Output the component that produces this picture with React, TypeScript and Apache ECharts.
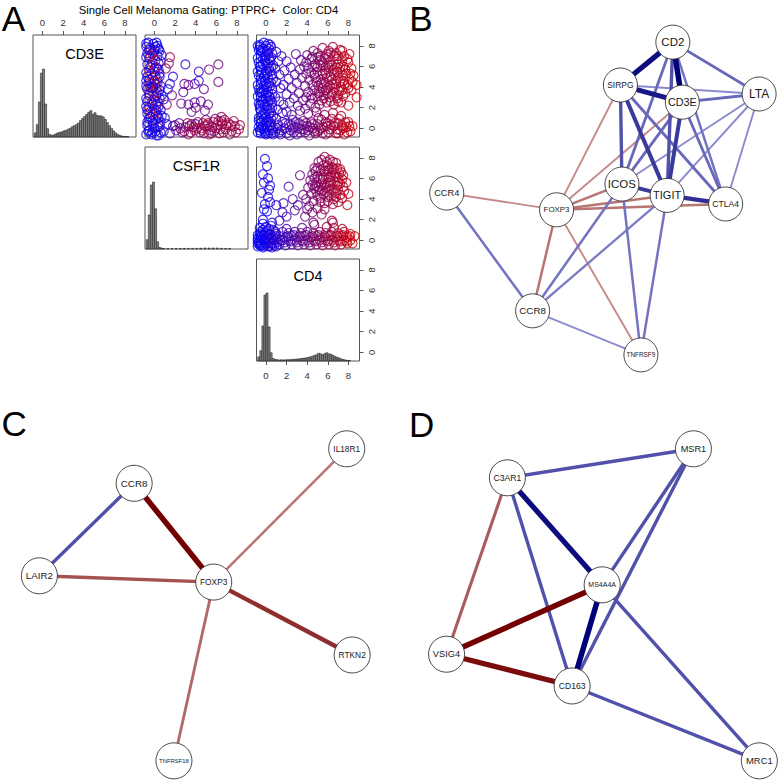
import React, { useEffect, useRef } from "react";
import * as echarts from "echarts";

const FONT = "'Liberation Sans', Arial, Helvetica, sans-serif";
const TITLE = "Single Cell Melanoma Gating: PTPRC+  Color: CD4";
const TICKS = [0, 2, 4, 6, 8];
const AXIS_X: [number, number] = [-0.92, 9.08];
const AXIS_Y: [number, number] = [-0.85, 9.05];
const HIST_BIN = 0.2;
const VAR_NAMES = ["CD3E", "CSF1R", "CD4"];

// histograms: [bin centre, bar height above panel floor]
const histCD3E = [
  [-0.7, 0.4], [-0.5, 1.2], [-0.3, 3.4], [-0.1, 6.2], [0.1, 6.6], [0.3, 3.2], [0.5, 0.8], [0.7, 0.25],
  [0.9, 0.15], [1.1, 0.2], [1.3, 0.3], [1.5, 0.4], [1.7, 0.45], [1.9, 0.5], [2.1, 0.6], [2.3, 0.65],
  [2.5, 0.75], [2.7, 0.85], [2.9, 1.0], [3.1, 1.1], [3.3, 1.2], [3.5, 1.35], [3.7, 1.6], [3.9, 1.8],
  [4.1, 2.0], [4.3, 2.2], [4.5, 2.4], [4.7, 2.55], [4.9, 2.2], [5.1, 2.35], [5.3, 2.1], [5.5, 2.05],
  [5.7, 2.05], [5.9, 1.95], [6.1, 1.7], [6.3, 1.4], [6.5, 1.1], [6.7, 0.85], [6.9, 0.6], [7.1, 0.4],
  [7.3, 0.25], [7.5, 0.15], [7.7, 0.1], [7.9, 0.06], [8.1, 0.04], [8.3, 0.03],
];
const histCSF1R = [
  [-0.7, 0.9], [-0.5, 3.3], [-0.3, 6.2], [-0.1, 6.5], [0.1, 3.9], [0.3, 0.7], [0.5, 0.15], [0.7, 0.08],
  [0.9, 0.05], [1.3, 0.04], [1.7, 0.04], [2.1, 0.04], [2.5, 0.05], [2.9, 0.05], [3.3, 0.06], [3.7, 0.06],
  [4.1, 0.07], [4.5, 0.08], [4.9, 0.1], [5.3, 0.09], [5.7, 0.1], [6.1, 0.1], [6.5, 0.07], [6.9, 0.05],
  [7.3, 0.04],
];
const histCD4 = [
  [-0.7, 0.4], [-0.5, 1.0], [-0.3, 3.4], [-0.1, 6.4], [0.1, 6.6], [0.3, 3.3], [0.5, 0.8], [0.7, 0.25],
  [0.9, 0.15], [1.1, 0.12], [1.3, 0.1], [1.5, 0.12], [1.7, 0.1], [1.9, 0.12], [2.1, 0.12], [2.3, 0.12],
  [2.5, 0.15], [2.7, 0.15], [2.9, 0.18], [3.1, 0.2], [3.3, 0.22], [3.5, 0.25], [3.7, 0.28], [3.9, 0.3],
  [4.1, 0.35], [4.3, 0.4], [4.5, 0.45], [4.7, 0.55], [4.9, 0.6], [5.1, 0.75], [5.3, 0.7], [5.5, 0.6],
  [5.7, 0.7], [5.9, 0.8], [6.1, 0.7], [6.3, 0.65], [6.5, 0.55], [6.7, 0.45], [6.9, 0.35], [7.1, 0.3],
  [7.3, 0.2], [7.5, 0.15], [7.7, 0.1], [7.9, 0.06], [8.1, 0.04],
];

// CD3E (y) vs CSF1R (x), third value = CD4 (colour)
const cellsCD3EvsCSF1R = [
  [-0.6, 8.3, 0], [-0.1, 8.2, 0], [0.3, 8.0, 0], [-0.4, 7.8, 5.5], [0.0, 7.6, 0], [0.5, 7.5, 0], [-0.7, 7.3, 0],
  [-0.2, 7.2, 6], [0.3, 7.0, 0], [-0.5, 6.8, 0], [0.1, 6.6, 6.5], [0.6, 6.5, 0], [-0.7, 6.2, 0], [-0.3, 6.1, 5],
  [0.2, 5.9, 0], [-0.5, 5.6, 6], [0.0, 5.5, 0], [0.5, 5.3, 0], [-0.7, 5.0, 0], [-0.2, 4.9, 6.5], [0.3, 4.7, 0],
  [-0.5, 4.4, 5.5], [0.1, 4.3, 0], [0.6, 4.1, 0], [-0.7, 3.8, 0], [-0.2, 3.6, 6], [0.3, 3.5, 0], [-0.5, 3.2, 0],
  [0.0, 3.0, 5.5], [0.5, 2.9, 0], [-0.7, 2.6, 0], [-0.3, 2.5, 6], [0.2, 2.3, 0], [-0.5, 2.0, 6.5], [0.0, 1.9, 0],
  [0.6, 1.8, 0], [-0.7, 1.4, 0], [-0.2, 1.3, 5], [0.3, 1.2, 0], [-0.5, 0.9, 0], [0.1, 0.8, 6], [0.6, 0.6, 0],
  [-0.7, 0.3, 0], [-0.2, 0.2, 0], [0.3, 0.1, 5.5], [-0.5, -0.2, 0], [0.1, -0.3, 0], [0.6, -0.4, 0], [-0.8, -0.6, 0],
  [-0.3, -0.6, 0], [0.2, -0.7, 0],
  [-0.4, 7.0, 6], [-0.3, 5.3, 6.5], [0.1, 5.1, 5], [-0.4, 4.0, 6], [0.2, 3.9, 6], [-0.1, 2.7, 6], [-0.4, 1.6, 6.5],
  [0.1, 1.5, 6], [-0.2, 6.4, 5.5], [0.0, 4.6, 6], [-0.3, 4.3, 6], [0.3, 4.4, 5.5], [-0.5, 3.4, 6], [0.3, 2.6, 6],
  [0.0, 5.8, 6], [-0.1, 7.4, 5],
  [-0.8, 8.2, 0], [0.2, 8.3, 0], [-0.5, 7.6, 0], [0.4, 7.7, 0], [-0.8, 6.9, 0], [0.4, 6.3, 0], [-0.4, 5.9, 0],
  [-0.8, 5.4, 0], [0.5, 5.0, 0], [-0.5, 4.7, 0], [-0.8, 4.1, 0], [-0.1, 4.0, 0], [0.5, 3.7, 0], [0.2, 3.2, 0],
  [-0.8, 2.9, 0], [-0.2, 2.3, 0], [0.4, 2.1, 0], [-0.7, 1.8, 0], [0.2, 1.7, 0], [-0.4, 1.1, 0], [0.4, 1.0, 0],
  [-0.2, 0.7, 0], [-0.7, 0.6, 0], [0.0, 0.0, 0], [0.5, 0.2, 0], [-0.6, -0.3, 0], [0.4, -0.7, 0], [-0.2, -0.4, 0],
  [0.1, 7.9, 0], [-0.3, 3.9, 0],
  [-0.8, 7.9, 0], [-0.8, 4.6, 0], [-0.8, 2.1, 0], [0.7, 7.1, 0], [0.7, 3.2, 0], [0.7, 1.2, 0], [0.4, 5.7, 0], [-0.1, 0.5, 0],
  [1.5, 6.9, 6], [1.4, 6.3, 5], [1.8, 5.0, 0.5], [1.5, 4.3, 1], [1.7, 3.2, 4], [1.2, 2.3, 5], [1.0, 1.0, 1],
  [1.1, 5.8, 5.5], [1.3, 3.8, 0.5], [0.9, 2.8, 0],
  [3.0, 6.2, 0.5], [4.3, 5.5, 1.5], [5.3, 5.7, 4], [6.2, 6.2, 4], [6.2, 4.5, 4], [2.9, 4.3, 3.5], [3.3, 4.2, 3.5],
  [3.9, 4.3, 3], [4.3, 4.6, 1], [4.8, 3.8, 3.5], [2.8, 3.5, 3], [2.6, 2.4, 3.5], [3.3, 2.3, 3.5], [3.9, 2.5, 2.5],
  [4.5, 2.6, 3.5], [5.2, 2.3, 3.5], [3.6, 1.6, 3.5], [4.9, 1.7, 3.5], [4.0, 2.0, 4], [5.9, 0.9, 4], [6.5, 1.1, 5],
  [0.9, -0.3, 1], [1.2, 0.4, 0.5], [1.5, -0.5, 2], [1.8, 0.2, 1], [2.1, -0.2, 3], [2.4, 0.5, 2], [2.7, -0.4, 4],
  [3.0, 0.1, 3.5], [3.3, -0.6, 5], [3.6, 0.4, 4.5], [3.9, -0.2, 5.5], [4.2, 0.6, 5], [4.5, 0.0, 6], [4.8, -0.5, 4.5],
  [5.1, 0.3, 6], [5.4, -0.2, 5], [5.7, 0.6, 6.5], [6.0, 0.0, 5.5], [6.3, -0.5, 6], [6.6, 0.4, 6.5], [6.9, -0.1, 5],
  [7.2, 0.5, 6], [7.5, -0.3, 6.5], [7.8, 0.2, 5.5], [8.2, -0.1, 6],
  [3.2, 0.5, 6], [3.8, 0.1, 6.5], [4.4, -0.4, 5.5], [4.7, 0.5, 6.5], [5.3, -0.6, 6], [5.6, 0.1, 5], [6.2, 0.7, 6],
  [6.4, -0.1, 6.5], [7.0, 0.3, 6.5], [7.3, -0.6, 5.5], [5.0, 0.8, 4], [2.5, 0.0, 5], [4.0, 0.4, 3], [5.8, -0.3, 4.5],
  [6.8, 0.8, 6], [2.0, 0.3, 4], [2.9, -0.3, 5], [3.5, -0.4, 6], [4.1, 0.0, 6], [4.6, -0.2, 6], [5.2, 0.5, 6.5],
  [5.5, -0.5, 6], [6.1, 0.3, 6], [6.7, -0.4, 6], [7.4, 0.3, 6.5], [7.9, -0.4, 6], [8.3, 0.3, 6], [3.4, 0.2, 5],
  [4.9, 0.2, 6], [6.5, 0.7, 5.5], [7.7, 0.7, 6],
];

// CD3E (y) vs CD4 (x)
const cellsCD3EvsCD4 = [
  [-0.6, 8.1], [-0.2, 8.3], [0.2, 8.2], [0.5, 7.9], [-0.7, 7.6], [-0.3, 7.7], [0.1, 7.5], [0.6, 7.3],
  [-0.5, 7.0], [-0.1, 6.9], [0.3, 6.8], [-0.7, 6.4], [-0.3, 6.2], [0.2, 6.3], [0.7, 6.1],
  [-0.5, 5.7], [0.0, 5.6], [0.4, 5.5], [-0.7, 5.1], [-0.2, 5.0], [0.2, 4.9], [0.7, 4.8],
  [-0.5, 4.4], [0.0, 4.3], [0.4, 4.1], [-0.7, 3.8], [-0.2, 3.7], [0.2, 3.5], [0.6, 3.3],
  [-0.5, 3.1], [0.0, 2.9], [0.4, 2.7], [-0.7, 2.4], [-0.3, 2.3], [0.1, 2.1], [0.6, 2.0],
  [-0.5, 1.7], [-0.1, 1.5], [0.3, 1.4], [0.7, 1.2], [-0.7, 1.0], [-0.2, 0.9], [0.2, 0.8],
  [-0.5, 0.5], [0.0, 0.4], [0.5, 0.3], [-0.7, 0.1], [-0.2, -0.1], [0.3, -0.2], [0.7, 0.0],
  [-0.5, -0.5], [0.0, -0.6], [0.5, -0.5], [-0.8, -0.4], [-0.3, 0.2], [0.1, 0.1],
  [-0.4, 7.4], [0.0, 7.1], [0.4, 6.6], [-0.4, 5.4], [0.1, 5.3], [-0.4, 4.6], [0.1, 4.0], [-0.4, 3.4], [0.1, 3.2],
  [-0.4, 2.6], [0.2, 2.5], [-0.4, 1.2], [0.0, 1.1], [0.4, 0.6], [-0.1, -0.3],
  [-0.6, 7.9], [0.3, 7.7], [-0.1, 6.6], [-0.6, 6.0], [0.5, 5.9], [-0.1, 4.6], [0.5, 4.4], [-0.6, 3.5], [0.4, 3.0],
  [-0.1, 2.2], [-0.6, 1.9], [0.4, 1.9], [-0.4, 0.7], [0.5, 0.9], [0.2, -0.5], [-0.6, -0.2], [0.6, -0.2],
  [-0.8, 8.0], [0.0, 8.0], [0.4, 8.1], [-0.5, 7.5], [0.2, 7.2], [-0.8, 6.8], [0.5, 6.9], [-0.3, 6.7], [0.0, 6.3],
  [-0.5, 6.0], [0.3, 5.8], [-0.8, 5.5], [-0.1, 5.2], [0.6, 5.2], [-0.5, 4.8], [0.3, 4.4], [-0.8, 4.2], [-0.2, 4.1],
  [0.6, 3.8], [-0.4, 3.6], [0.0, 3.4], [-0.8, 3.1], [0.3, 3.1], [-0.3, 2.8], [0.6, 2.5], [-0.6, 2.2], [0.1, 1.8],
  [-0.3, 1.4], [0.5, 1.5], [-0.7, 0.7], [0.1, 0.6], [-0.4, 0.0], [0.4, 0.2], [-0.1, -0.5], [0.7, -0.6],
  [1.0, 7.4], [1.2, 6.5], [0.9, 5.8], [1.3, 5.2], [1.0, 4.5], [1.4, 3.9], [0.9, 3.0], [1.3, 2.6], [1.1, 1.8],
  [1.6, 1.5], [1.0, 0.9],
  [0.9, -0.4], [1.2, 0.3], [1.4, -0.6], [1.6, 0.6], [1.8, 0.0], [2.0, -0.5], [2.2, 0.4], [2.4, -0.2], [2.6, 0.8],
  [2.8, 0.1], [3.0, -0.6], [3.2, 0.5], [3.4, -0.1], [3.6, 0.7], [3.8, -0.4], [4.0, 0.2], [4.2, -0.7], [4.4, 0.6],
  [4.6, 0.0], [4.8, -0.5], [5.0, 0.4], [5.2, -0.2], [5.4, 0.8], [5.6, 0.1], [5.8, -0.6], [6.0, 0.5], [6.2, -0.1],
  [6.4, 0.9], [6.6, 0.2], [6.8, -0.5], [7.0, 0.5], [7.2, -0.2], [7.4, 0.3], [7.6, -0.6], [7.8, 0.1], [8.0, 0.6],
  [8.2, -0.3], [8.4, 0.2],
  [1.5, -0.2], [2.3, -0.7], [3.1, 0.0], [3.9, 0.5], [4.7, -0.3], [5.5, -0.5], [6.3, 0.3], [7.1, 0.9], [7.9, -0.4],
  [2.7, -0.4], [4.3, 0.1], [5.9, 0.2], [6.9, -0.1], [5.1, 1.0], [3.5, 0.3],
  [1.1, 0.0], [1.9, 0.5], [2.5, 0.3], [3.3, -0.4], [4.1, -0.2], [4.5, 0.4], [5.3, 0.0], [6.1, -0.4], [6.7, 0.5],
  [7.5, 0.0], [8.1, 0.2], [1.3, -0.4], [2.9, 0.6], [3.7, -0.1], [5.0, -0.3], [5.8, 0.6], [7.0, -0.5], [7.7, 0.6],
  [2.0, 1.6], [2.5, 1.3], [3.3, 1.7], [4.1, 1.4], [4.9, 1.6], [5.7, 1.3], [6.5, 1.5], [7.3, 1.2], [1.7, 2.3],
  [1.5, 7.0], [2.0, 6.5], [1.8, 5.6], [2.4, 5.9], [2.2, 4.8], [2.8, 5.2], [1.7, 4.2], [2.5, 3.9], [3.0, 4.4],
  [2.0, 3.3], [2.7, 2.9], [3.2, 3.4], [2.3, 2.5], [3.1, 2.2], [3.4, 6.6], [2.9, 7.2], [3.3, 5.7], [3.5, 4.9],
  [3.6, 2.7], [3.8, 1.9],
  [5.5, 7.8], [6.5, 7.9], [7.2, 7.6], [4.6, 7.5],
  [4.0, 7.1], [5.0, 7.3], [5.9, 7.2], [6.8, 7.3], [7.6, 7.0], [8.1, 7.2],
  [3.9, 6.4], [4.4, 6.7], [5.2, 6.6], [5.7, 6.8], [6.2, 6.5], [6.9, 6.7], [7.4, 6.5], [8.0, 6.4], [4.8, 6.2],
  [4.1, 5.8], [4.7, 5.9], [5.3, 6.1], [5.8, 5.9], [6.4, 6.1], [6.9, 5.9], [7.5, 6.0], [8.3, 5.8], [3.7, 6.0],
  [3.9, 5.3], [4.4, 5.4], [5.0, 5.5], [5.5, 5.3], [6.1, 5.5], [6.6, 5.3], [7.2, 5.5], [7.8, 5.3], [8.5, 5.1],
  [4.2, 4.7], [4.8, 4.9], [5.3, 4.7], [5.9, 4.9], [6.4, 4.7], [7.0, 4.9], [7.5, 4.6], [8.1, 4.8], [8.8, 4.2],
  [3.8, 4.1], [4.5, 4.2], [5.1, 4.1], [5.6, 4.3], [6.2, 4.1], [6.8, 4.3], [7.3, 4.0], [7.9, 4.2],
  [4.1, 3.5], [4.7, 3.7], [5.3, 3.5], [5.8, 3.7], [6.5, 3.5], [7.1, 3.6], [7.7, 3.4], [8.3, 3.7],
  [3.9, 3.0], [4.5, 2.9], [5.0, 3.1], [5.6, 2.9], [6.2, 3.0], [6.9, 2.9], [7.5, 3.1], [8.8, 3.0],
  [4.3, 2.4], [5.2, 2.3], [5.9, 2.5], [6.6, 2.3], [7.3, 2.5], [8.0, 2.2], [4.8, 2.0],
  [5.0, 6.9], [6.0, 6.9], [6.6, 7.0], [5.5, 6.4], [6.0, 6.2], [6.6, 5.7], [7.0, 6.2], [5.7, 5.6], [6.3, 5.0],
  [6.8, 4.6], [5.4, 4.4], [6.0, 3.9], [7.2, 4.5], [6.4, 3.3], [5.6, 3.2], [7.7, 5.7], [7.9, 6.7], [4.4, 3.2],
  [6.1, 7.5], [7.4, 7.5],
  [4.5, 6.9], [5.3, 7.0], [6.3, 7.3], [7.0, 7.0], [5.0, 5.9], [6.1, 5.9], [7.2, 5.9], [4.7, 5.2], [5.8, 5.3],
  [6.9, 5.5], [7.5, 5.1], [4.9, 4.5], [5.8, 4.4], [6.5, 4.3], [7.6, 4.3], [5.5, 3.9], [6.7, 3.9], [7.4, 3.7],
  [5.1, 3.4], [6.0, 3.4], [7.0, 3.2], [8.0, 3.9], [8.4, 4.5], [8.2, 5.3], [5.4, 2.7], [6.3, 2.6], [7.0, 2.6],
];

// CSF1R (y) vs CD4 (x)
const cellsCSF1RvsCD4 = [
  [-0.8, -0.6], [-0.8, 0.0], [-0.8, 0.5], [-0.5, -0.3], [-0.5, 0.3], [-0.5, 0.8], [-0.2, -0.6], [-0.2, 0.0],
  [-0.2, 0.5], [0.1, -0.3], [0.1, 0.3], [0.1, 0.9], [0.4, -0.6], [0.4, 0.0], [0.4, 0.6], [0.7, -0.3], [0.7, 0.3],
  [0.7, 1.0], [1.0, -0.6], [1.0, 0.1], [1.0, 0.6], [-0.6, 1.2], [0.0, 1.3], [0.5, 1.4], [-0.3, 1.6],
  [-0.7, -0.2], [-0.4, 0.1], [-0.1, -0.3], [0.2, 0.1], [0.5, -0.3], [0.8, 0.0], [-0.6, 0.6], [0.3, 0.5],
  [-0.3, -0.7], [0.6, -0.7], [0.9, 0.4], [1.1, -0.2],
  [-0.8, -0.3], [-0.8, 0.2], [-0.6, -0.5], [-0.6, 0.0], [-0.4, -0.5], [-0.4, 0.5], [-0.1, 0.2], [-0.1, 0.7],
  [0.2, -0.6], [0.2, 0.6], [0.5, 0.2], [0.3, -0.2], [0.8, -0.5], [0.9, 0.8], [-0.3, 1.0], [0.3, 1.1],
  [1.3, -0.4], [1.3, 0.4], [1.6, 0.0], [1.6, 0.8], [1.9, -0.5], [1.9, 0.3], [2.2, 0.0], [2.2, 0.7], [2.5, -0.4],
  [2.5, 0.4], [2.8, 0.0], [2.8, 0.8], [3.1, -0.5], [3.1, 0.3], [3.4, 0.0], [3.4, 0.7], [3.7, -0.4], [3.7, 0.4],
  [4.0, 0.0], [4.0, 0.8], [4.3, -0.5], [4.3, 0.3], [4.6, 0.0], [4.6, 0.7], [4.9, -0.4], [4.9, 0.4], [5.2, 0.0],
  [5.2, 0.8], [5.5, -0.5], [5.5, 0.3], [5.8, 0.0], [5.8, 0.7], [6.1, -0.4], [6.1, 0.4], [6.4, 0.0], [6.4, 0.8],
  [6.7, -0.5], [6.7, 0.3], [7.0, 0.0], [7.0, 0.7], [7.3, -0.4], [7.3, 0.4], [7.6, 0.0], [7.6, 0.8], [7.9, -0.3],
  [7.9, 0.3], [8.2, 0.0], [8.2, 0.6], [8.6, 0.4], [8.4, -0.3],
  [1.4, 0.0], [1.8, -0.2], [2.1, 0.4], [2.4, -0.1], [2.7, 0.5], [3.0, -0.2], [3.3, 0.4], [3.6, -0.1], [3.9, 0.5],
  [4.2, -0.2], [4.5, 0.4], [4.8, -0.1], [5.1, 0.5], [5.4, -0.2], [5.7, 0.4], [6.0, -0.1], [6.3, 0.5], [6.6, -0.2],
  [6.9, 0.4], [7.2, -0.1], [7.5, 0.5], [7.8, -0.1], [8.1, 0.4],
  [5.9, 1.3], [6.6, 1.2], [4.7, 1.5], [6.5, 1.7], [7.4, 1.1], [3.5, 1.2], [2.0, 1.1],
  [-0.1, 7.9], [0.1, 7.2], [-0.3, 6.4], [0.2, 6.0], [0.4, 5.3], [-0.2, 5.6], [-0.4, 4.6], [0.2, 4.2], [0.4, 3.7],
  [-0.1, 3.5], [0.1, 2.8], [-0.3, 2.0], [0.6, 1.7], [-0.2, 3.0], [0.3, 4.9], [1.0, 3.4], [1.7, 3.6], [1.6, 2.7],
  [2.0, 2.3], [1.3, 1.9],
  [2.2, 5.2], [3.3, 6.3], [3.1, 3.4], [2.8, 2.9], [3.8, 2.3], [4.6, 1.7], [6.4, 1.9], [3.6, 4.4], [2.6, 4.0], [4.0, 3.0],
  [5.7, 8.1], [6.2, 7.8], [5.1, 7.6], [6.8, 7.5], [5.6, 7.3], [6.4, 7.1], [4.7, 7.0], [7.2, 6.9], [5.3, 6.8],
  [6.0, 6.7], [6.7, 6.5], [4.5, 6.4], [5.0, 6.2], [5.6, 6.1], [6.3, 6.2], [7.0, 6.1], [7.5, 6.3], [4.3, 5.8],
  [4.9, 5.6], [5.4, 5.5], [6.0, 5.6], [6.6, 5.7], [7.2, 5.5], [7.8, 5.6], [4.1, 5.1], [4.7, 5.0], [5.2, 4.9],
  [5.8, 5.1], [6.4, 5.0], [7.0, 4.9], [7.6, 4.8], [4.4, 4.5], [5.0, 4.3], [5.6, 4.5], [6.2, 4.4], [6.8, 4.2],
  [7.4, 4.1], [3.9, 4.0], [4.6, 3.8], [5.3, 3.7], [6.0, 3.8], [6.5, 3.5], [7.9, 3.4], [4.2, 3.3], [5.0, 3.1],
  [5.7, 3.0], [4.5, 2.7], [5.4, 2.5], [6.1, 6.9], [5.9, 7.6], [6.6, 6.9], [5.8, 6.4], [6.9, 5.3], [5.5, 5.9],
  [6.2, 5.3], [4.8, 5.3], [5.9, 4.7], [6.6, 4.7], [7.3, 6.6], [8.0, 4.5],
  [5.4, 7.8], [6.5, 7.6], [5.0, 7.0], [6.0, 7.2], [6.9, 7.0], [4.8, 6.7], [5.7, 6.7], [6.4, 6.6], [7.1, 6.5],
  [4.7, 6.0], [5.3, 5.9], [6.1, 6.1], [6.8, 6.1], [7.4, 5.9], [4.5, 5.4], [5.1, 5.2], [5.7, 5.4], [6.3, 5.6],
  [7.0, 5.6], [7.5, 5.2], [4.9, 4.7], [5.4, 4.8], [6.1, 4.9], [6.8, 4.6], [7.2, 4.4], [5.3, 4.1], [6.0, 4.2],
  [6.6, 4.0], [5.7, 3.6], [7.0, 3.7],
];

// networks: node layout coordinates (0..1) and signed edge weights
const nodesB = [
  ["CD2", 0.718, 0.892], ["SIRPG", 0.580, 0.782], ["CD3E", 0.743, 0.738], ["LTA", 0.945, 0.759],
  ["ICOS", 0.584, 0.528], ["TIGIT", 0.703, 0.499], ["CTLA4", 0.857, 0.477], ["CCR4", 0.123, 0.505],
  ["FOXP3", 0.412, 0.462], ["CCR8", 0.349, 0.203], ["TNFRSF9", 0.634, 0.090],
];
const edgesB = [
  ["CCR4", "FOXP3", -0.35], ["FOXP3", "SIRPG", -0.35], ["FOXP3", "CD3E", -0.35], ["FOXP3", "ICOS", -0.45],
  ["FOXP3", "TIGIT", -0.45], ["FOXP3", "CTLA4", -0.45], ["FOXP3", "CCR8", -0.45], ["FOXP3", "TNFRSF9", -0.35],
  ["CCR4", "CCR8", 0.45], ["CCR8", "ICOS", 0.45], ["CCR8", "TIGIT", 0.42], ["CCR8", "TNFRSF9", 0.35],
  ["ICOS", "TNFRSF9", 0.45], ["TIGIT", "TNFRSF9", 0.45],
  ["LTA", "ICOS", 0.35], ["LTA", "TIGIT", 0.35], ["LTA", "CTLA4", 0.35], ["SIRPG", "LTA", 0.35],
  ["CD2", "LTA", 0.5], ["CD2", "ICOS", 0.5], ["CD2", "CTLA4", 0.45], ["CD3E", "LTA", 0.5], ["CD3E", "ICOS", 0.5],
  ["CD3E", "CTLA4", 0.5], ["SIRPG", "CTLA4", 0.5], ["CD2", "TIGIT", 0.6], ["SIRPG", "ICOS", 0.6],
  ["SIRPG", "TIGIT", 0.7], ["CD3E", "TIGIT", 0.7], ["ICOS", "TIGIT", 0.7], ["TIGIT", "CTLA4", 0.75],
  ["SIRPG", "CD3E", 0.85], ["CD2", "SIRPG", 0.9], ["CD2", "CD3E", 0.95],
];
const nodesC = [
  ["CCR8", 0.344, 0.762], ["IL18R1", 0.889, 0.850], ["LAIR2", 0.101, 0.526], ["FOXP3", 0.548, 0.510],
  ["RTKN2", 0.903, 0.324], ["TNFRSF18", 0.446, 0.054],
];
const edgesC = [
  ["CCR8", "LAIR2", 0.6], ["CCR8", "FOXP3", -0.95], ["LAIR2", "FOXP3", -0.6], ["FOXP3", "IL18R1", -0.45],
  ["FOXP3", "RTKN2", -0.75], ["FOXP3", "TNFRSF18", -0.5],
];
const nodesD = [
  ["MSR1", 0.778, 0.850], ["C3AR1", 0.301, 0.776], ["MS4A4A", 0.544, 0.503], ["VSIG4", 0.145, 0.326],
  ["CD163", 0.467, 0.245], ["MRC1", 0.947, 0.054],
];
const edgesD = [
  ["C3AR1", "MSR1", 0.6], ["C3AR1", "VSIG4", -0.55], ["C3AR1", "CD163", 0.6], ["MSR1", "MS4A4A", 0.6],
  ["MSR1", "CD163", 0.6], ["MS4A4A", "MRC1", 0.6], ["CD163", "MRC1", 0.6], ["C3AR1", "MS4A4A", 0.9],
  ["MS4A4A", "CD163", 0.95], ["MS4A4A", "VSIG4", -0.95], ["VSIG4", "CD163", -0.9],
];

// styles (kept apart from the data)
const labelSize: Record<string, number> = {
  "B:CD2": 11.5, "B:SIRPG": 8.5, "B:CD3E": 10.8, "B:LTA": 12, "B:ICOS": 11.5, "B:TIGIT": 11, "B:CTLA4": 8.6,
  "B:CCR4": 9.2, "B:FOXP3": 7.9, "B:CCR8": 9.8, "B:TNFRSF9": 6.4,
  "C:CCR8": 9.9, "C:IL18R1": 8.3, "C:LAIR2": 9.8, "C:FOXP3": 8.4, "C:RTKN2": 8.4, "C:TNFRSF18": 5.9,
  "D:MSR1": 9.2, "D:C3AR1": 8.6, "D:MS4A4A": 7.0, "D:VSIG4": 9.3, "D:CD163": 8.6, "D:MRC1": 9.4,
};
const GRIDS_A = [
  [33, 35], [145, 35], [256.5, 35], [145, 147], [256.5, 147], [256.5, 259],
];
const BOX_W = 103;
const BOX_H = 102;
const NET_GRIDS = [
  [400, 0, 380, 390], [0, 390, 390, 392], [390, 390, 390, 392],
];

function mix(a: number[], b: number[], t: number) {
  const c = a.map((v, i) => Math.round(v + (b[i] - v) * t));
  return `rgb(${c[0]},${c[1]},${c[2]})`;
}
function cd4Color(v: number) {
  const t = Math.max(0, Math.min(1, (v + 0.8) / 9.4));
  return mix([0, 0, 255], [210, 0, 0], t);
}
function edgeStyle(w: number) {
  const m = Math.abs(w);
  const t = Math.max(0, Math.min(1, (m - 0.3) / 0.65));
  const color = w > 0 ? mix([150, 150, 215], [0, 0, 120], t) : mix([205, 150, 150], [115, 0, 0], t);
  return { color, width: 6 * m - 0.2, opacity: 1, curveness: 0 };
}

function buildOption() {
  const grid: any[] = [];
  const xAxis: any[] = [];
  const yAxis: any[] = [];
  const tickStyle = { show: true, inside: false, length: 4, lineStyle: { color: "#555", width: 1 }, customValues: TICKS };
  const noTick = { show: false };
  const lab = (margin: number, rotate = 0) => ({
    show: true, customValues: TICKS, fontSize: 9.5, color: "#333", fontFamily: FONT, margin, rotate,
  });
  const hiddenLine = { show: false, onZero: false };
  GRIDS_A.forEach(([l, t], i) => {
    grid.push({ left: l, top: t, width: BOX_W, height: BOX_H, show: true, borderColor: "#555", borderWidth: 1,
      backgroundColor: "transparent", containLabel: false, outerBoundsMode: "none" });
    const xTop = i <= 2;
    const xLabeled = i <= 2 || i === 5;
    xAxis.push({
      type: "value", gridIndex: i, min: AXIS_X[0], max: AXIS_X[1], position: xTop ? "top" : "bottom",
      splitLine: { show: false }, axisLine: hiddenLine, minorTick: { show: false },
      axisTick: xLabeled ? tickStyle : noTick,
      axisLabel: xLabeled ? lab(xTop ? 8 : 9) : { show: false },
    });
    const yLabeled = i === 2 || i === 4 || i === 5;
    yAxis.push({
      type: "value", gridIndex: i, min: AXIS_Y[0], max: AXIS_Y[1], position: "right",
      splitLine: { show: false }, axisLine: hiddenLine, minorTick: { show: false },
      axisTick: yLabeled ? tickStyle : noTick,
      axisLabel: yLabeled ? lab(7, 90) : { show: false },
    });
  });
  NET_GRIDS.forEach(([l, t, w, h], k) => {
    const gi = 6 + k;
    grid.push({ left: l, top: t, width: w, height: h, show: false, containLabel: false, outerBoundsMode: "none" });
    xAxis.push({ type: "value", gridIndex: gi, min: 0, max: 1, show: false, axisLine: hiddenLine });
    yAxis.push({ type: "value", gridIndex: gi, min: 0, max: 1, show: false, axisLine: hiddenLine });
  });

  const hist = (gi: number, data: number[][]) => ({
    type: "custom", xAxisIndex: gi, yAxisIndex: gi, silent: true, data,
    label: { show: false },
    renderItem: (_p: any, api: any) => {
      const c = api.value(0);
      const h = api.value(1);
      const p0 = api.coord([c - HIST_BIN / 2, AXIS_Y[0] + h]);
      const p1 = api.coord([c + HIST_BIN / 2, AXIS_Y[0]]);
      return {
        type: "rect",
        shape: { x: p0[0], y: p0[1], width: p1[0] - p0[0], height: p1[1] - p0[1] },
        style: { fill: "#858585", stroke: "#1a1a1a", lineWidth: 0.55 },
      };
    },
  });
  const scatter = (gi: number, data: number[][], colorOf: (d: number[]) => number) => ({
    type: "scatter", xAxisIndex: gi, yAxisIndex: gi, silent: true, symbol: "circle", symbolSize: 9,
    data: data.map((d) => ({
      value: [d[0], d[1]],
      itemStyle: { color: "rgba(0,0,0,0)", borderColor: cd4Color(colorOf(d)), borderWidth: 1.15 },
    })),
  });
  const graph = (gi: number, key: string, nodes: any[], edges: any[], size: number) => ({
    type: "graph", coordinateSystem: "cartesian2d", xAxisIndex: gi, yAxisIndex: gi, silent: true,
    layout: "none", symbol: "circle", symbolSize: size, emphasis: { disabled: true },
    itemStyle: { color: "#fff", borderColor: "#333", borderWidth: 0.9 },
    label: { show: true, position: "inside", color: "#1a1a1a", fontFamily: FONT },
    data: nodes.map(([name, u, v]) => ({ name, value: [u, v], label: { fontSize: labelSize[`${key}:${name}`] } })),
    links: edges.map(([s, t, w]) => ({ source: s, target: t, lineStyle: edgeStyle(w) })),
  });

  const txt = (text: string, x: number, y: number, size: number) => ({
    type: "text", x, y, silent: true,
    style: { text, fill: "#000", fontSize: size, fontFamily: FONT, align: "center", verticalAlign: "middle",
      textAlign: "center", textVerticalAlign: "middle" },
  });

  return {
    animation: false,
    backgroundColor: "#fff",
    grid, xAxis, yAxis,
    graphic: [
      txt(TITLE, 208.5, 10, 11.3),
      txt("A", 13.5, 18, 35),
      txt("B", 421, 18, 35),
      txt("C", 14.2, 423.5, 35),
      txt("D", 421.7, 424.5, 35),
      txt(VAR_NAMES[0], 84.5, 53.5, 14.5),
      txt(VAR_NAMES[1], 196.5, 165.5, 14.5),
      txt(VAR_NAMES[2], 308, 276, 14.5),
    ],
    series: [
      hist(0, histCD3E),
      hist(3, histCSF1R),
      hist(5, histCD4),
      scatter(1, cellsCD3EvsCSF1R, (d) => d[2]),
      scatter(2, cellsCD3EvsCD4, (d) => d[0]),
      scatter(4, cellsCSF1RvsCD4, (d) => d[0]),
      graph(6, "B", nodesB, edgesB, 34),
      graph(7, "C", nodesC, edgesC, 36),
      graph(8, "D", nodesD, edgesD, 36),
    ],
  };
}

export default function App() {
  const ref = useRef<HTMLDivElement>(null);
  useEffect(() => {
    if (!ref.current) return;
    const chart = echarts.init(ref.current, undefined, { renderer: "svg" });
    chart.setOption(buildOption() as any);
    return () => chart.dispose();
  }, []);
  return (
    <div
      ref={ref}
      style={{ position: "fixed", left: 0, top: 0, width: 780, height: 782, background: "#fff" }}
    />
  );
}
